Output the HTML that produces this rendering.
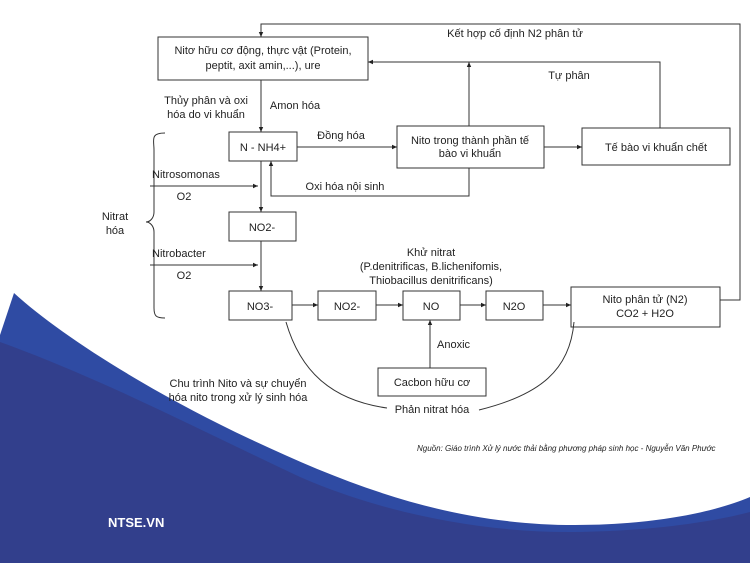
<!DOCTYPE html>
<html><head><meta charset="utf-8"><style>
body{margin:0;width:750px;height:563px;overflow:hidden;background:#fff;font-family:"Liberation Sans",sans-serif}
svg{position:absolute;left:0;top:0}
text{font-family:"Liberation Sans",sans-serif;font-size:11px;fill:#222}
</style></head><body>
<svg width="750" height="563" viewBox="0 0 750 563">
<defs><marker id="a" markerWidth="6" markerHeight="6" refX="5" refY="3" orient="auto"><path d="M0,0.8L5,3L0,5.2z" fill="#222"/></marker></defs>
<path d="M14,293 C60,335 150,392 250,439 C350,486 450,525 575,525 C660,525 720,510 750,497 L750,563 L0,563 L0,335 Z" fill="#2f4ba3"/>
<path d="M0,342 C100,378 200,430 300,477 C380,512 480,533 575,532 C660,531 720,520 750,512 L750,563 L0,563 Z" fill="#323f8c"/>
<g fill="none" stroke="#333" stroke-width="1">
<rect x="158" y="37" width="210" height="43"/>
<rect x="229" y="132" width="68" height="29"/>
<rect x="397" y="126" width="147" height="42"/>
<rect x="582" y="128" width="148" height="37"/>
<rect x="229" y="212" width="67" height="29"/>
<rect x="229" y="291" width="63" height="29"/>
<rect x="318" y="291" width="58" height="29"/>
<rect x="403" y="291" width="57" height="29"/>
<rect x="486" y="291" width="57" height="29"/>
<rect x="571" y="287" width="149" height="40"/>
<rect x="378" y="368" width="108" height="28"/>
<path d="M720,300 H740 V24 H261 V37" marker-end="url(#a)"/>
<path d="M261,80 V132" marker-end="url(#a)"/>
<path d="M297,147 H397" marker-end="url(#a)"/>
<path d="M544,147 H582" marker-end="url(#a)"/>
<path d="M469,126 V62" marker-end="url(#a)"/>
<path d="M660,128 V62 H368" marker-end="url(#a)"/>
<path d="M469,168 V196 H271 V161" marker-end="url(#a)"/>
<path d="M150,186 H258" marker-end="url(#a)"/>
<path d="M150,265 H258" marker-end="url(#a)"/>
<path d="M261,161 V212" marker-end="url(#a)"/>
<path d="M261,241 V291" marker-end="url(#a)"/>
<path d="M292,305 H318" marker-end="url(#a)"/>
<path d="M376,305 H403" marker-end="url(#a)"/>
<path d="M460,305 H486" marker-end="url(#a)"/>
<path d="M543,305 H571" marker-end="url(#a)"/>
<path d="M430,368 V320" marker-end="url(#a)"/>
<path d="M165,133 C150,133 154,140 154,150 V212 C154,218 150,222 146,222 C150,222 154,226 154,232 V308 C154,316 156,318 165,318"/>
<path d="M286,322 C300,370 330,400 387,408"/>
<path d="M479,410 C540,395 570,370 574,322"/>
</g>
<g text-anchor="middle">
<text x="263" y="54">Nitơ hữu cơ động, thực vật (Protein,</text>
<text x="263" y="69">peptit, axit amin,...), ure</text>
<text x="515" y="37">Kết hợp cố định N2 phân tử</text>
<text x="569" y="79">Tự phân</text>
<text x="206" y="104">Thủy phân và oxi</text>
<text x="206" y="118">hóa do vi khuẩn</text>
<text x="295" y="109">Amon hóa</text>
<text x="263" y="151">N - NH4+</text>
<text x="341" y="139">Đồng hóa</text>
<text x="470" y="144">Nito trong thành phần tế</text>
<text x="470" y="157">bào vi khuẩn</text>
<text x="656" y="151">Tế bào vi khuẩn chết</text>
<text x="345" y="190">Oxi hóa nội sinh</text>
<text x="184" y="200">O2</text>
<text x="262" y="231">NO2-</text>
<text x="184" y="279">O2</text>
<text x="115" y="220">Nitrat</text>
<text x="115" y="234">hóa</text>
<text x="431" y="256">Khử nitrat</text>
<text x="431" y="270">(P.denitrificas, B.lichenifomis,</text>
<text x="431" y="284">Thiobacillus denitrificans)</text>
<text x="260" y="310">NO3-</text>
<text x="347" y="310">NO2-</text>
<text x="431" y="310">NO</text>
<text x="514" y="310">N2O</text>
<text x="645" y="303">Nito phân tử (N2)</text>
<text x="645" y="317">CO2 + H2O</text>
<text x="432" y="386">Cacbon hữu cơ</text>
<text x="432" y="413">Phản nitrat hóa</text>
<text x="238" y="387">Chu trình Nito và sự chuyển</text>
<text x="238" y="401">hóa nito trong xử lý sinh hóa</text>
</g>
<text x="152" y="178">Nitrosomonas</text>
<text x="152" y="257">Nitrobacter</text>
<text x="437" y="348">Anoxic</text>
<text x="417" y="451" style="font-size:8px;font-style:italic">Nguồn: Giáo trình Xử lý nước thải bằng phương pháp sinh học - Nguyễn Văn Phước</text>
<text x="108" y="527" style="font-size:13px;font-weight:bold;fill:#fff">NTSE.VN</text>
</svg>
</body></html>
